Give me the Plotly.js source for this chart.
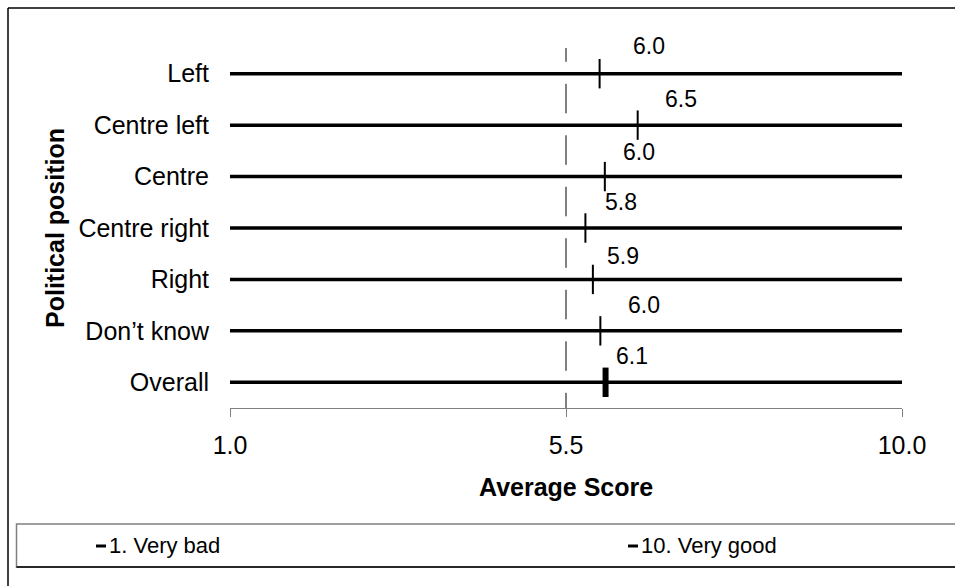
<!DOCTYPE html>
<html>
<head>
<meta charset="utf-8">
<script src="https://cdn.plot.ly/plotly-3.0.1.min.js"></script>
<style>html,body{margin:0;padding:0;background:#fff;}#chart{width:955px;height:586px;}</style>
</head>
<body>
<div id="chart"></div>
<script>
// ---- data ----
const categories = ["Left", "Centre left", "Centre", "Centre right", "Right", "Don\u2019t know", "Overall"];
const averageScores = [5.95, 6.46, 6.02, 5.76, 5.86, 5.96, 6.03];
const scoreLabels = ["6.0", "6.5", "6.0", "5.8", "5.9", "6.0", "6.1"];
const veryBad = [1, 1, 1, 1, 1, 1, 1];      // "1. Very bad" end of scale
const veryGood = [10, 10, 10, 10, 10, 10, 10]; // "10. Very good" end of scale
const midpoint = 5.5;
const xTickVals = [1, 5.5, 10];
const xTickText = ["1.0", "5.5", "10.0"];
const legendNames = ["1. Very bad", "10. Very good"];

// ---- layout constants (pixels) ----
const W = 955, H = 586;
const M = {l: 230, r: 53, t: 48, b: 178};
const PW = W - M.l - M.r, PH = H - M.t - M.b;
const px = p => (p - M.l) / PW;          // pixel x -> paper x
const py = q => (H - M.b - q) / PH;      // pixel y -> paper y
const labelXShift = [49, 43, 34, 36, 30, 44, 26];
const labelYShift = [28, 26, 25, 26, 23, 26, 26];
const FONT = "Liberation Sans, Arial, sans-serif";

const traces = [];
categories.forEach((c, i) => {
  traces.push({
    type: "scatter", mode: "lines",
    x: [veryBad[i], veryGood[i]], y: [c, c],
    line: {color: "#000", width: 3.5},
    showlegend: false, hoverinfo: "skip"
  });
});
traces.push({
  type: "scatter", mode: "markers",
  x: averageScores, y: categories,
  marker: {
    symbol: "line-ns", size: 21, color: "#000",
    line: {color: "#000", width: categories.map(c => c === "Overall" ? 6 : 2)}
  },
  cliponaxis: false, showlegend: false
});

const annotations = categories.map((c, i) => ({
  x: averageScores[i], y: c, xref: "x", yref: "y",
  xanchor: "center", yanchor: "middle",
  text: scoreLabels[i], showarrow: false,
  xshift: labelXShift[i], yshift: labelYShift[i],
  font: {family: FONT, size: 23, color: "#000"}
}));
annotations.push({
  xref: "paper", yref: "paper", x: px(55), y: py(228),
  xanchor: "center", yanchor: "middle",
  text: "<b>Political position</b>", textangle: -90, showarrow: false,
  font: {family: FONT, size: 25, color: "#000"}
});
annotations.push({
  xref: "paper", yref: "paper", x: px(566), y: py(487),
  xanchor: "center", yanchor: "middle",
  text: "<b>Average Score</b>", showarrow: false,
  font: {family: FONT, size: 25, color: "#000"}
});
const legendX = [96, 628];
legendNames.forEach((n, k) => {
  annotations.push({
    xref: "paper", yref: "paper", x: px(legendX[k] + 11), y: py(545),
    xanchor: "left", yanchor: "middle", text: n, showarrow: false,
    font: {family: FONT, size: 22, color: "#000"}
  });
});

const shapes = [
  // mid-scale dashed reference line
  {type: "line", xref: "x", yref: "y", x0: midpoint, x1: midpoint, y0: -0.805, y1: 6.8,
   line: {color: "#000", width: 1, dash: "29.5px,22px"}, layer: "below"},
  // outer frame (left and top edges)
  {type: "line", xref: "paper", yref: "paper", x0: px(8), x1: px(8), y0: py(8), y1: py(600),
   line: {color: "#000", width: 1.5}},
  {type: "line", xref: "paper", yref: "paper", x0: px(8), x1: px(970), y0: py(8), y1: py(8),
   line: {color: "#000", width: 1.5}},
  // legend box
  {type: "rect", xref: "paper", yref: "paper", x0: px(16.5), x1: px(970), y0: py(567), y1: py(524),
   line: {color: "#808080", width: 1.5}, fillcolor: "rgba(0,0,0,0)"},
  {type: "line", xref: "paper", yref: "paper", x0: px(16.5), x1: px(970), y0: py(567), y1: py(567),
   line: {color: "#000", width: 1.5}}
];
legendX.forEach(x => {
  shapes.push({type: "line", xref: "paper", yref: "paper", x0: px(x), x1: px(x + 10), y0: py(546), y1: py(546),
    line: {color: "#000", width: 3}});
});

const layout = {
  width: W, height: H,
  margin: M,
  paper_bgcolor: "#fff", plot_bgcolor: "#fff",
  font: {family: FONT, color: "#000"},
  showlegend: false,
  xaxis: {
    range: [1, 10], tickvals: xTickVals, ticktext: xTickText,
    showline: true, linecolor: "#808080", linewidth: 1,
    ticks: "outside", ticklen: 8, tickcolor: "#808080", tickwidth: 1,
    ticklabelstandoff: 7,
    showgrid: false, zeroline: false, fixedrange: true,
    tickfont: {family: FONT, size: 25, color: "#000"}
  },
  yaxis: {
    type: "category", categoryarray: categories, range: [6.5, -0.5],
    showline: false, ticks: "", showgrid: false, zeroline: false,
    ticklabelstandoff: 20, fixedrange: true,
    tickfont: {family: FONT, size: 25, color: "#000"}
  },
  annotations: annotations,
  shapes: shapes
};

Plotly.newPlot("chart", traces, layout, {displayModeBar: false, staticPlot: true});
</script>
</body>
</html>
